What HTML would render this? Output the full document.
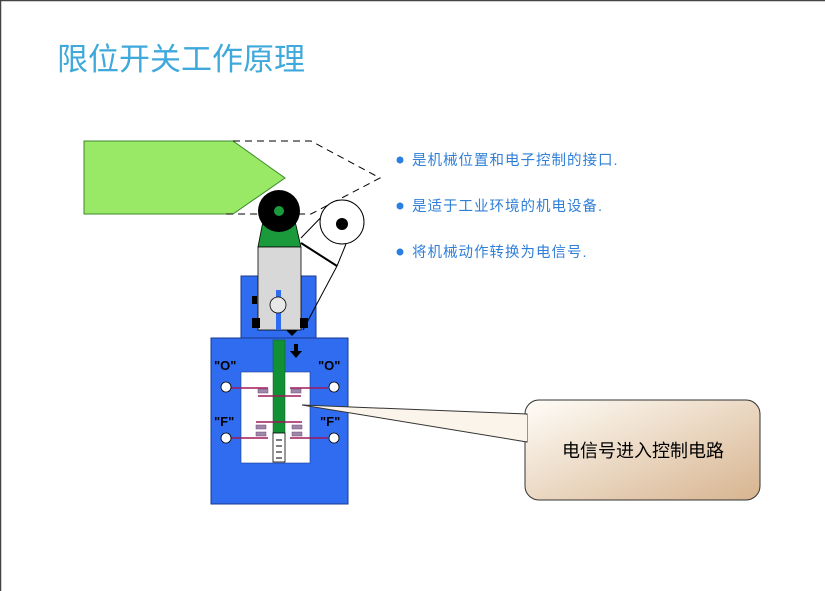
<!DOCTYPE html>
<html><head><meta charset="utf-8"><style>
body{margin:0;background:#fff}
svg{display:block}
</style></head><body>
<svg width="825" height="591" xmlns="http://www.w3.org/2000/svg" font-family="'Liberation Sans','Noto Sans CJK SC',sans-serif">
<defs>
<linearGradient id="g" x1="0" y1="0" x2="1" y2="1">
<stop offset="0" stop-color="#fffdf8"/><stop offset="1" stop-color="#d7b48f"/>
</linearGradient>
</defs>
<rect x="0" y="0" width="825" height="591" fill="#fff"/>
<line x1="0" y1="0.5" x2="825" y2="0.5" stroke="#444" stroke-width="1.5"/>
<line x1="0.5" y1="0" x2="0.5" y2="591" stroke="#444" stroke-width="1.5"/>
<text x="57" y="70" font-size="31" fill="#3fa9dc">限位开关工作原理</text>

<!-- bullets -->
<g font-size="14.5" fill="#2f7fd8" letter-spacing="1">
<circle cx="400" cy="160" r="3.5" fill="#2a7fe0"/><text x="412" y="165">是机械位置和电子控制的接口.</text>
<circle cx="400" cy="206" r="3.5" fill="#2a7fe0"/><text x="412" y="211">是适于工业环境的机电设备.</text>
<circle cx="400" cy="252" r="3.5" fill="#2a7fe0"/><text x="412" y="257">将机械动作转换为电信号.</text>
</g>

<!-- cam -->
<polygon points="84,141 233,141 285,178 233,214 84,214" fill="#99e866" stroke="#3a8a2a" stroke-width="1"/>
<polyline points="233,141 311,141 380,178 311,214 226,214" fill="none" stroke="#000" stroke-width="1" stroke-dasharray="7,5"/>

<!-- blue upper box -->
<rect x="241" y="276" width="75" height="62" fill="#2f6cf0" stroke="#1a3a90"/>
<!-- second roller lines -->
<line x1="301" y1="243" x2="337" y2="266" stroke="#000" stroke-width="2"/>
<line x1="301" y1="238" x2="330" y2="208" stroke="#000" stroke-width="1"/>
<line x1="346" y1="244" x2="337" y2="266" stroke="#000" stroke-width="1"/>
<line x1="337" y1="266" x2="303" y2="330" stroke="#000" stroke-width="1"/>
<circle cx="342" cy="222" r="22" fill="#fff" stroke="#000"/>
<circle cx="342" cy="224" r="6" fill="#000"/>
<!-- bracket -->
<polygon points="263,221 295,221 301,247 258,247" fill="#1a9a3a" stroke="#000" stroke-width="0.8"/>
<circle cx="279" cy="211" r="21" fill="#000"/>
<circle cx="279" cy="211" r="5" fill="#1a9a3a"/>
<!-- gray body -->
<rect x="258" y="247" width="43" height="83" fill="#d8d8d8" stroke="#000" stroke-width="0.8"/>
<rect x="276" y="290" width="5" height="40" fill="#2f6cf0"/>
<circle cx="278" cy="305" r="8" fill="#e8e8e8" stroke="#000" stroke-width="0.8"/>
<rect x="252" y="318" width="8" height="10" fill="#000"/>
<rect x="300" y="318" width="8" height="10" fill="#000"/>
<rect x="252" y="296" width="5" height="8" fill="#000"/>
<polygon points="286,330 298,330 292,336" fill="#000"/>

<!-- big blue box -->
<rect x="211" y="338" width="137" height="166" fill="#2f6cf0" stroke="#1a3a90"/>
<rect x="241" y="372" width="69" height="91" fill="#fff" stroke="#1a3a90" stroke-width="0.6"/>
<rect x="273" y="340" width="12" height="93" fill="#129035" stroke="#0a5a20" stroke-width="0.5"/>
<rect x="273" y="433" width="12" height="29" fill="#fff" stroke="#000" stroke-width="0.8"/>
<g stroke="#000" stroke-width="1"><line x1="276" y1="440" x2="282" y2="440"/><line x1="276" y1="446" x2="282" y2="446"/><line x1="276" y1="452" x2="282" y2="452"/><line x1="276" y1="458" x2="282" y2="458"/></g>
<rect x="294" y="344" width="4" height="8" fill="#000"/><polygon points="290,351 302,351 296,358" fill="#000"/>
<g font-size="13" font-weight="bold" fill="#000">
<text x="214" y="370">"O"</text><text x="318" y="370">"O"</text>
<text x="214" y="426">"F"</text><text x="320" y="426">"F"</text>
</g>
<g stroke="#a0185a" stroke-width="1.6" fill="none">
<line x1="231" y1="388" x2="268" y2="388"/><line x1="290" y1="388" x2="328" y2="388"/>
<line x1="258" y1="396" x2="301" y2="396"/>
<line x1="256" y1="422" x2="302" y2="422"/>
<line x1="231" y1="438" x2="268" y2="438"/><line x1="290" y1="438" x2="328" y2="438"/>
</g>
<g fill="#9a8aa8" stroke="#7a3a7a" stroke-width="0.5">
<rect x="258" y="389" width="10" height="4"/><rect x="291" y="389" width="10" height="4"/>
<rect x="256" y="425" width="10" height="4"/><rect x="292" y="425" width="10" height="4"/>
<rect x="256" y="432" width="10" height="4"/><rect x="292" y="432" width="10" height="4"/>
</g>
<g fill="#fff" stroke="#000" stroke-width="0.8">
<circle cx="226" cy="387" r="5"/><circle cx="334" cy="387" r="5"/>
<circle cx="226" cy="438" r="5"/><circle cx="334" cy="438" r="5"/>
</g>

<!-- callout -->
<rect x="525" y="400" width="235" height="100" rx="14" fill="url(#g)" stroke="#333" stroke-width="1"/>
<polygon points="302,405 527,414 527,442" fill="#fbf4ea" stroke="#333" stroke-width="1"/>
<line x1="526" y1="415" x2="526" y2="441" stroke="#fbf4ea" stroke-width="2"/>
<text x="643" y="457" font-size="18" text-anchor="middle" fill="#000">电信号进入控制电路</text>
</svg>
</body></html>
